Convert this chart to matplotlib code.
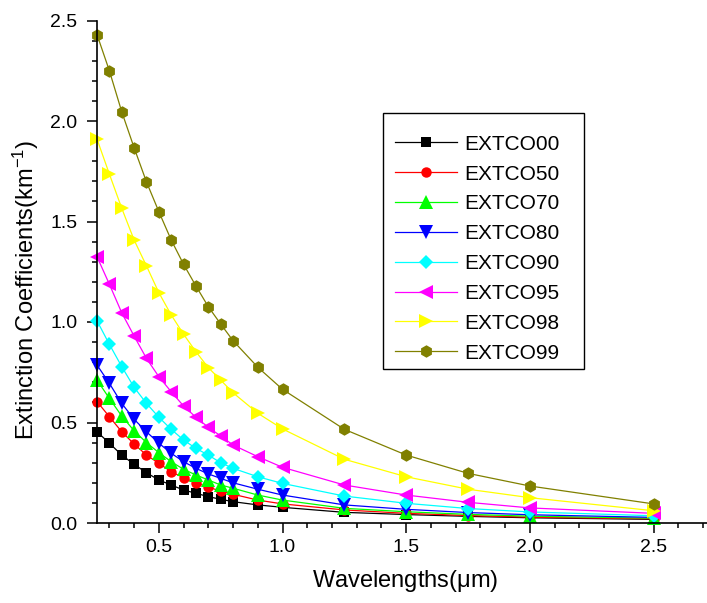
import matplotlib
matplotlib.use("Agg")
import matplotlib.pyplot as plt
from matplotlib.patches import Rectangle
from matplotlib.ticker import MultipleLocator

plt.rcParams["font.family"] = ["Liberation Sans", "DejaVu Sans"]
plt.rcParams["mathtext.fontset"] = "custom"
plt.rcParams["mathtext.rm"] = "Liberation Sans"
plt.rcParams["mathtext.it"] = "Liberation Sans"

wavelengths = [0.25, 0.30, 0.35, 0.40, 0.45, 0.50, 0.55, 0.60, 0.65, 0.70,
               0.75, 0.80, 0.90, 1.00, 1.25, 1.50, 1.75, 2.00, 2.50]

extco00 = [0.454, 0.397, 0.338, 0.292, 0.250, 0.214, 0.189, 0.164, 0.148, 0.131,
           0.118, 0.106, 0.090, 0.078, 0.053, 0.042, 0.033, 0.026, 0.018]
extco50 = [0.604, 0.529, 0.454, 0.393, 0.338, 0.297, 0.255, 0.225, 0.200, 0.178,
           0.159, 0.143, 0.114, 0.095, 0.065, 0.048, 0.037, 0.029, 0.021]
extco70 = [0.711, 0.620, 0.532, 0.459, 0.400, 0.350, 0.305, 0.267, 0.239, 0.214,
           0.189, 0.173, 0.139, 0.114, 0.073, 0.056, 0.043, 0.034, 0.024]
extco80 = [0.786, 0.695, 0.595, 0.516, 0.454, 0.397, 0.347, 0.305, 0.272, 0.244,
           0.222, 0.200, 0.168, 0.139, 0.090, 0.068, 0.052, 0.041, 0.028]
extco90 = [1.006, 0.889, 0.778, 0.675, 0.595, 0.526, 0.466, 0.413, 0.371, 0.338,
           0.300, 0.272, 0.230, 0.197, 0.134, 0.098, 0.072, 0.055, 0.036]
extco95 = [1.325, 1.188, 1.046, 0.930, 0.819, 0.728, 0.653, 0.582, 0.526, 0.476,
           0.433, 0.388, 0.330, 0.277, 0.189, 0.139, 0.103, 0.075, 0.048]
extco98 = [1.910, 1.736, 1.566, 1.408, 1.279, 1.146, 1.035, 0.939, 0.852, 0.773,
           0.711, 0.648, 0.546, 0.468, 0.317, 0.230, 0.168, 0.126, 0.061]
extco99 = [2.430, 2.250, 2.046, 1.867, 1.697, 1.549, 1.408, 1.287, 1.179, 1.076,
           0.990, 0.907, 0.775, 0.665, 0.466, 0.338, 0.247, 0.184, 0.095]

series = [
    ("EXTCO00", extco00, "#000000", "s", 7),
    ("EXTCO50", extco50, "#ff0000", "o", 7.5),
    ("EXTCO70", extco70, "#00ff00", "^", 9.5),
    ("EXTCO80", extco80, "#0000ff", "v", 9.5),
    ("EXTCO90", extco90, "#00ffff", "D", 7),
    ("EXTCO95", extco95, "#ff00ff", "<", 9.5),
    ("EXTCO98", extco98, "#ffff00", ">", 9.5),
    ("EXTCO99", extco99, "#808000", "h", 9),
]

fig = plt.figure(figsize=(7.07, 6.03), dpi=100)
ax = fig.add_axes([97 / 707, 1 - 523 / 603, 610 / 707, (523 - 20.5) / 603])

for name, vals, col, mk, ms in series:
    ax.plot(wavelengths, vals, color=col, lw=0.9, marker=mk, ms=ms,
            mfc=col, mec=col, mew=0, label=name, clip_on=False)

ax.set_xlim(0.25, 2.716)
ax.set_ylim(0, 2.5)
ax.set_xticks([0.5, 1.0, 1.5, 2.0, 2.5])
ax.xaxis.set_minor_locator(MultipleLocator(0.1))
ax.yaxis.set_major_locator(MultipleLocator(0.5))
ax.yaxis.set_minor_locator(MultipleLocator(0.1))
ax.tick_params(which="major", direction="out", length=7.2, width=1.1, labelsize=14)
ax.tick_params(which="minor", direction="out", length=3.6, width=1.1)
ax.tick_params(axis="x", which="major", pad=4.5)
ax.tick_params(axis="y", which="major", pad=7)
for s in ("top", "right"):
    ax.spines[s].set_visible(False)
for s in ("left", "bottom"):
    ax.spines[s].set_linewidth(1.2)

ax.set_xlabel(r"Wavelengths($\mu$m)", fontsize=17)
ax.set_ylabel(r"Extinction Coefficients(km$^{\mathregular{-1}}$)", fontsize=17)
ax.xaxis.set_label_coords(0.505, -0.0886)
ax.yaxis.set_label_coords(-0.0918, 0.4637)

# legend entries without the default frame; the box is drawn separately
leg = ax.legend(loc="upper left", bbox_to_anchor=(0.4885, 0.7727), borderaxespad=0,
                fontsize=15, handlelength=2.97, handletextpad=0.35, labelspacing=0.52,
                borderpad=0, frameon=False, numpoints=1)
ax.add_patch(Rectangle((0.4684, 0.3059), 0.7984 - 0.4684, 0.8153 - 0.3059,
                       transform=ax.transAxes, fill=False, ec="black", lw=1.0,
                       zorder=5, clip_on=False))

fig.savefig("out.png", dpi=100)
